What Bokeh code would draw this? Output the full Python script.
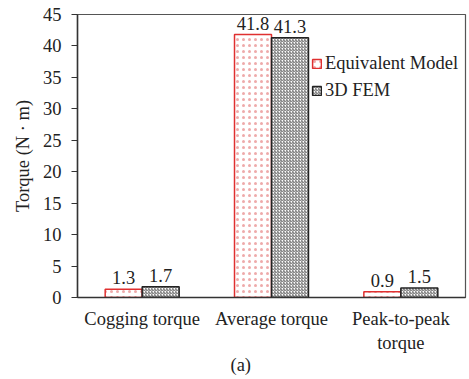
from bokeh.plotting import figure
from bokeh.models import ColumnDataSource, FixedTicker, Range1d, Legend, LegendItem, Title
from bokeh.embed import file_html
from bokeh.resources import INLINE
from bokeh.core.properties import value

categories = ["Cogging torque", "Average torque", "Peak-to-peak\ntorque"]
equivalent = [1.3, 41.8, 0.9]
fem = [1.7, 41.3, 1.5]
y_ticks = [0, 5, 10, 15, 20, 25, 30, 35, 40, 45]
caption = "(a)"

FONT = "'Liberation Serif', 'Times New Roman', serif"
FS = "18.5px"
centers = [i + 0.5 for i in range(len(categories))]
bw = 0.286

src_eq = ColumnDataSource(dict(x=[c - bw / 2 for c in centers], top=equivalent,
                               lab=[f"{v:.1f}" for v in equivalent]))
src_fem = ColumnDataSource(dict(x=[c + bw / 2 for c in centers], top=fem,
                                lab=[f"{v:.1f}" for v in fem]))

p = figure(width=469, height=379, output_backend="svg", toolbar_location=None,
           x_range=Range1d(0, 3), y_range=Range1d(0, 45),
           min_border_left=77, min_border_right=4, min_border_top=14, min_border_bottom=82,
           frame_width=388, frame_height=283)
p.background_fill_color = "white"
p.border_fill_color = "white"
p.outline_line_color = "#555555"
p.outline_line_width = 1.2
p.xgrid.visible = False
p.ygrid.visible = False

r1 = p.vbar(x="x", top="top", width=bw, source=src_eq, fill_color="white",
            line_color="#e03030", line_width=1.5,
            hatch_pattern="dot", hatch_color="#eeaaaa", hatch_scale=6, hatch_weight=0.8)
r2 = p.vbar(x="x", top="top", width=bw, source=src_fem, fill_color="white",
            line_color="#222222", line_width=1.5,
            hatch_pattern="right_diagonal_line", hatch_color="#666666", hatch_scale=3, hatch_weight=1)

for src in (src_eq, src_fem):
    p.text(x="x", y="top", text="lab", source=src, text_align="center",
           text_baseline="bottom", y_offset=-5, text_font=value(FONT),
           text_font_size=FS, text_color="#222222")

p.xaxis.ticker = FixedTicker(ticks=centers)
p.xaxis.major_label_overrides = {c: lab for c, lab in zip(centers, categories)}
p.xaxis.major_tick_line_color = None
p.xaxis.minor_tick_line_color = None
p.xaxis.axis_line_color = "#333333"
p.xaxis.axis_line_width = 1.5
p.xaxis.major_label_text_font = FONT
p.xaxis.major_label_text_font_size = FS
p.xaxis.major_label_text_color = "#222222"
p.xaxis.major_label_standoff = 5

p.add_layout(Title(text=caption, align="left", offset=153, standoff=-6,
                   text_font=FONT, text_font_size=FS, text_font_style="normal",
                   text_color="#222222"), "below")

p.yaxis.ticker = FixedTicker(ticks=y_ticks)
p.yaxis.minor_tick_line_color = None
p.yaxis.major_tick_out = 6
p.yaxis.major_tick_in = 0
p.yaxis.major_tick_line_color = "#333333"
p.yaxis.axis_line_color = "#333333"
p.yaxis.axis_line_width = 1.5
p.yaxis.major_label_text_font = FONT
p.yaxis.major_label_text_font_size = FS
p.yaxis.major_label_text_color = "#222222"
p.yaxis.major_label_standoff = 10
p.yaxis.axis_label = "Torque (N · m)"
p.yaxis.axis_label_text_font = FONT
p.yaxis.axis_label_text_font_size = FS
p.yaxis.axis_label_text_font_style = "normal"
p.yaxis.axis_label_text_color = "#222222"
p.yaxis.axis_label_standoff = 7

legend = Legend(items=[LegendItem(label="Equivalent Model", renderers=[r1]),
                       LegendItem(label="3D FEM", renderers=[r2])],
                location=(234, 196), glyph_width=11, glyph_height=11,
                spacing=6, padding=2, margin=0, border_line_color=None,
                background_fill_alpha=0, label_text_font=FONT,
                label_text_font_size=FS, label_text_color="#222222",
                label_standoff=3)
p.add_layout(legend, "center")

open("out.html", "w").write(file_html(p, INLINE))
